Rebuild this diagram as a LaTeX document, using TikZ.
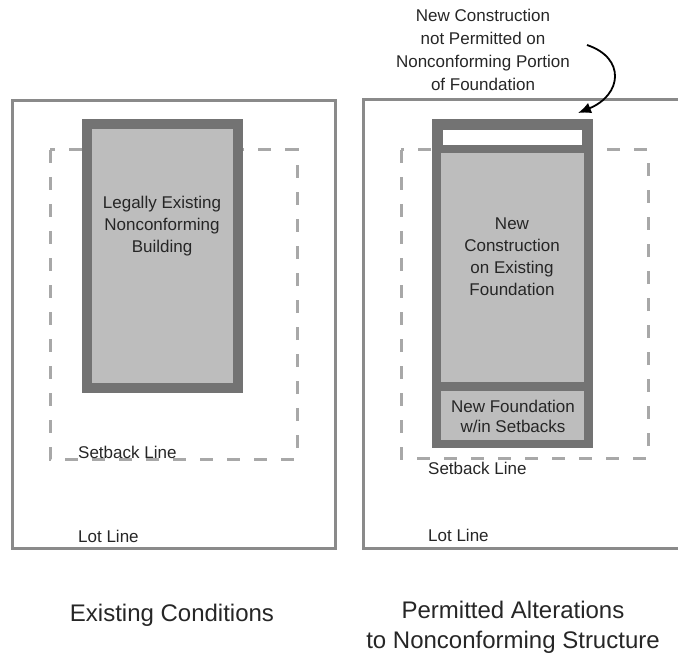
\documentclass[tikz,border=0pt]{standalone}
\usepackage{fontspec}
\setmainfont{Liberation Sans}
\usepackage{tikz}
\usetikzlibrary{calc,arrows.meta}

\definecolor{lotgray}{HTML}{8A8A8A}
\definecolor{setgray}{HTML}{A8A8A8}
\definecolor{walldark}{HTML}{737373}
\definecolor{floorgray}{HTML}{BDBDBD}

\tikzset{
    lotline/.style={color=lotgray, line width=3pt},
    setbackline/.style={color=setgray, line width=3pt, dash pattern=on 13pt off 14pt},
    bldg/.style={draw=walldark, fill=floorgray, line width=10pt},
    lbl/.style={inner sep=0pt, text=black!85, font=\fontsize{17}{22}\selectfont},
    ttl/.style={inner sep=0pt, text=black!85, font=\fontsize{24}{30}\selectfont}
}

\begin{document}
\begin{tikzpicture}[x=1pt,y=-1pt]
        \useasboundingbox (0,0) rectangle (678,658);
        % existing conditions
        \draw[lotline] (12,101) rectangle (335,548);
        \draw[setbackline] (50,150) rectangle (297,459);
        \draw[bldg] (87,124) rectangle (238,388);
        \node[lbl, anchor=north, align=center] (oldbldg) at (162,195.5)
            {Legally Existing\\Nonconforming\\Building};
        \node[lbl, anchor=base west] (setbackA) at (78,458) {Setback Line};
        \node[lbl, anchor=base west] (lotA) at (78,542) {Lot Line};
        \node[ttl, anchor=base] (titleA) at (172,621) {Existing Conditions};

        % permitted alterations
        \draw[lotline] (363,100) rectangle (679,548);
        \draw[setbackline] (401,150) rectangle (648,458);
        \fill[walldark] (432,119) rectangle (593,448);
        \fill[white] (443,130) rectangle (582,145);
        \fill[floorgray] (441,153) rectangle (584,382);
        \fill[floorgray] (441,391) rectangle (584,440);
        \node[lbl, anchor=north, align=center] (newcons) at (512,217.5)
            {New\\Construction\\on Existing\\Foundation};
        \node[lbl, anchor=north, align=center,
            font=\fontsize{17}{20}\selectfont] (newfound) at (513,399.5)
            {New Foundation\\w/in Setbacks};
        \node[lbl, anchor=base west] (setbackB) at (428,474) {Setback Line};
        \node[lbl, anchor=base west] (lotB) at (428,541) {Lot Line};
        \node[ttl, anchor=north, align=center] (titleB) at (513,600.8)
            {Permitted Alterations\\to Nonconforming Structure};

        % note and arrow
        \node[lbl, anchor=north, align=center,
            font=\fontsize{17}{23}\selectfont] (note) at (483,8.5)
            {New Construction\\not Permitted on\\Nonconforming Portion\\of Foundation};
        \coordinate (arrstart) at (587,45);
        \coordinate (arrtip) at (578,113);
        \draw[-{Latex[length=13pt,width=11pt]}, line width=1.8pt]
            (arrstart) .. controls (626,58) and (622,95) .. (arrtip);
    \end{tikzpicture}
\end{document}
